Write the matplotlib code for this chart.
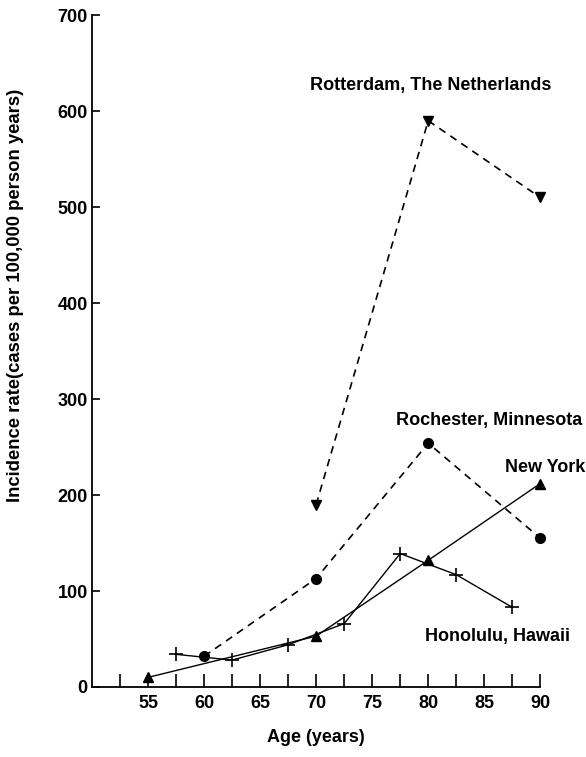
import numpy as np
import matplotlib.pyplot as plt

plt.rcParams['font.family'] = ['Liberation Sans', 'DejaVu Sans']
plt.rcParams['font.weight'] = 'bold'
plt.rcParams['axes.labelweight'] = 'bold'

# Данные
rot_age = [70, 80, 90]
rot_rate = [190, 590, 510]

roch_age = [60, 70, 80, 90]
roch_rate = [32, 113, 254, 155]

ny_age = [55, 70, 80, 90]
ny_rate = [10, 53, 132, 212]

hon_age = [57.5, 62.5, 67.5, 72.5, 77.5, 82.5, 87.5]
hon_rate = [34, 28, 44, 66, 139, 117, 83]

x_ticks = np.arange(52.5, 90.1, 2.5)

fig = plt.figure(figsize=(5.86, 7.57), dpi=100)
ax = fig.add_axes([0.157, 0.0925, 0.765, 0.8875])

ax.plot(rot_age, rot_rate, 'k--', marker='v', ms=7, lw=1.2, dashes=(4.5, 3.5), clip_on=False)
ax.plot(roch_age, roch_rate, 'k--', marker='o', ms=7, lw=1.2, dashes=(4.5, 3.5), clip_on=False)
ax.plot(ny_age, ny_rate, 'k-', marker='^', ms=7, lw=1.0, clip_on=False)
ax.plot(hon_age, hon_rate, 'k-', marker='+', ms=10, mew=1.2, lw=1.0, clip_on=False)

fs = 13
ax.text(80.2, 627, 'Rotterdam, The Netherlands', ha='center', va='center', fontsize=fs, clip_on=False)
ax.text(85.4, 278, 'Rochester, Minnesota', ha='center', va='center', fontsize=fs, clip_on=False)
ax.text(94.0, 229, 'New York', ha='right', va='center', fontsize=fs, clip_on=False)
ax.text(86.2, 53, 'Honolulu, Hawaii', ha='center', va='center', fontsize=fs, clip_on=False)

ax.set_xlim(50, 90)
ax.set_ylim(0, 700)
ax.set_xticks(x_ticks)
ax.set_xticklabels(['' if (v % 5) else str(int(v)) for v in x_ticks])
ax.set_yticks(np.arange(0, 701, 100))
ax.tick_params(axis='x', direction='in', length=9.5, width=1.2, labelsize=fs, pad=6)
ax.tick_params(axis='y', direction='in', length=5.5, width=1.2, labelsize=fs, pad=3)
for s in ['top', 'right']:
    ax.spines[s].set_visible(False)
ax.spines['left'].set_linewidth(1.3)
ax.spines['bottom'].set_linewidth(1.3)

fig.text(0.5 * (92 + 540) / 586, 1 - 738 / 757, 'Age (years)', ha='center', va='center',
         fontsize=fs)
fig.text(16 / 586, 1 - 295 / 757, 'Incidence rate(cases per 100,000 person years)',
         ha='center', va='center', rotation=90, fontsize=13.3)

plt.savefig('out.png', dpi=100)
